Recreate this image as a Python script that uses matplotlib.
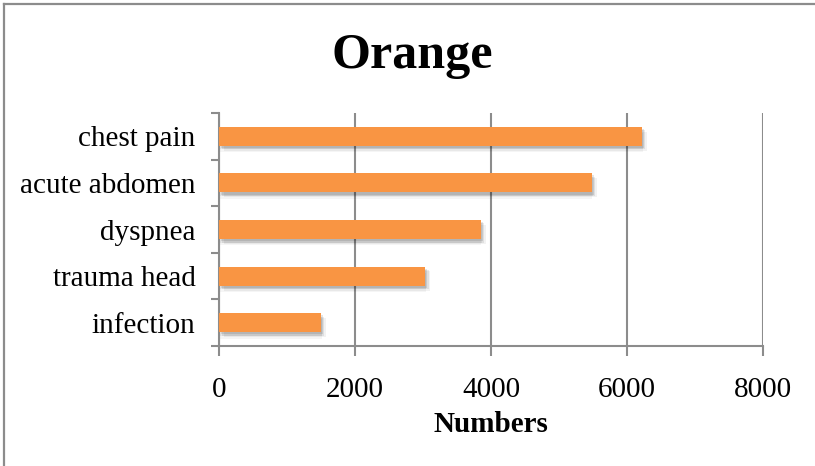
import matplotlib
matplotlib.use("Agg")
import matplotlib.pyplot as plt
import matplotlib.patheffects as pe
from matplotlib.lines import Line2D
import numpy as np

# Data
categories = ["chest pain", "acute abdomen", "dyspnea", "trauma head", "infection"]
values = [6220, 5480, 3850, 3030, 1500]
x_ticks = [0, 2000, 4000, 6000, 8000]

title = "Orange"
x_label = "Numbers"

bar_color = "#F99543"
axis_gray = "#8C8C8C"

plt.rcParams["font.family"] = ["Liberation Serif", "DejaVu Serif"]

fig = plt.figure(figsize=(8.15, 4.66), dpi=100)
ax = fig.add_axes([0.2687, 0.2575, 0.6675, 0.5])

# Categories listed top to bottom
y = np.arange(len(categories))[::-1]

# Soft drop shadow built from several faint offset copies
shadow = [pe.SimplePatchShadow(offset=(dx, dy), shadow_rgbFace="#000000", alpha=a)
          for dx, dy, a in [(1.5, -1.5, 0.10), (2.5, -2.5, 0.08), (3.5, -3.5, 0.05),
                            (1, -2.5, 0.06), (0.5, -4.5, 0.04)]]
bars = ax.barh(y, values, height=0.41, color=bar_color, zorder=3)
for b in bars:
    b.set_path_effects(shadow + [pe.Normal()])

ax.set_xlim(0, 8000)
ax.set_ylim(-0.5, len(categories) - 0.5)

ax.set_xticks(x_ticks)
ax.set_xticklabels([str(t) for t in x_ticks], fontsize=21)
ax.set_yticks(y)
ax.set_yticklabels(categories, fontsize=21)
ax.set_yticks(np.arange(-0.5, len(categories), 1.0), minor=True)

ax.tick_params(axis="y", which="major", length=0, pad=17)
ax.tick_params(axis="y", which="minor", length=6, width=1.5, color=axis_gray, direction="out")
ax.tick_params(axis="x", which="major", length=7, width=1.5, color=axis_gray,
               direction="out", pad=15)

ax.grid(axis="x", color=axis_gray, linewidth=1.5, zorder=0)
ax.set_axisbelow(True)

for side in ["top", "right"]:
    ax.spines[side].set_visible(False)
for side in ["left", "bottom"]:
    ax.spines[side].set_color(axis_gray)
    ax.spines[side].set_linewidth(1.5)

ax.set_xlabel(x_label, fontsize=21, fontweight="bold", labelpad=6)

fig.text(0.506, 0.88, title, fontsize=36, fontweight="bold", ha="center", va="center")

# Frame lines along top and left edges of the figure
fig.add_artist(Line2D([4 / 815, 1.0], [1 - 4 / 466, 1 - 4 / 466],
                      transform=fig.transFigure, color=axis_gray, linewidth=1.6))
fig.add_artist(Line2D([4 / 815, 4 / 815], [0.0, 1 - 4 / 466],
                      transform=fig.transFigure, color=axis_gray, linewidth=1.6))

fig.savefig("out.png", dpi=100, facecolor="white")
